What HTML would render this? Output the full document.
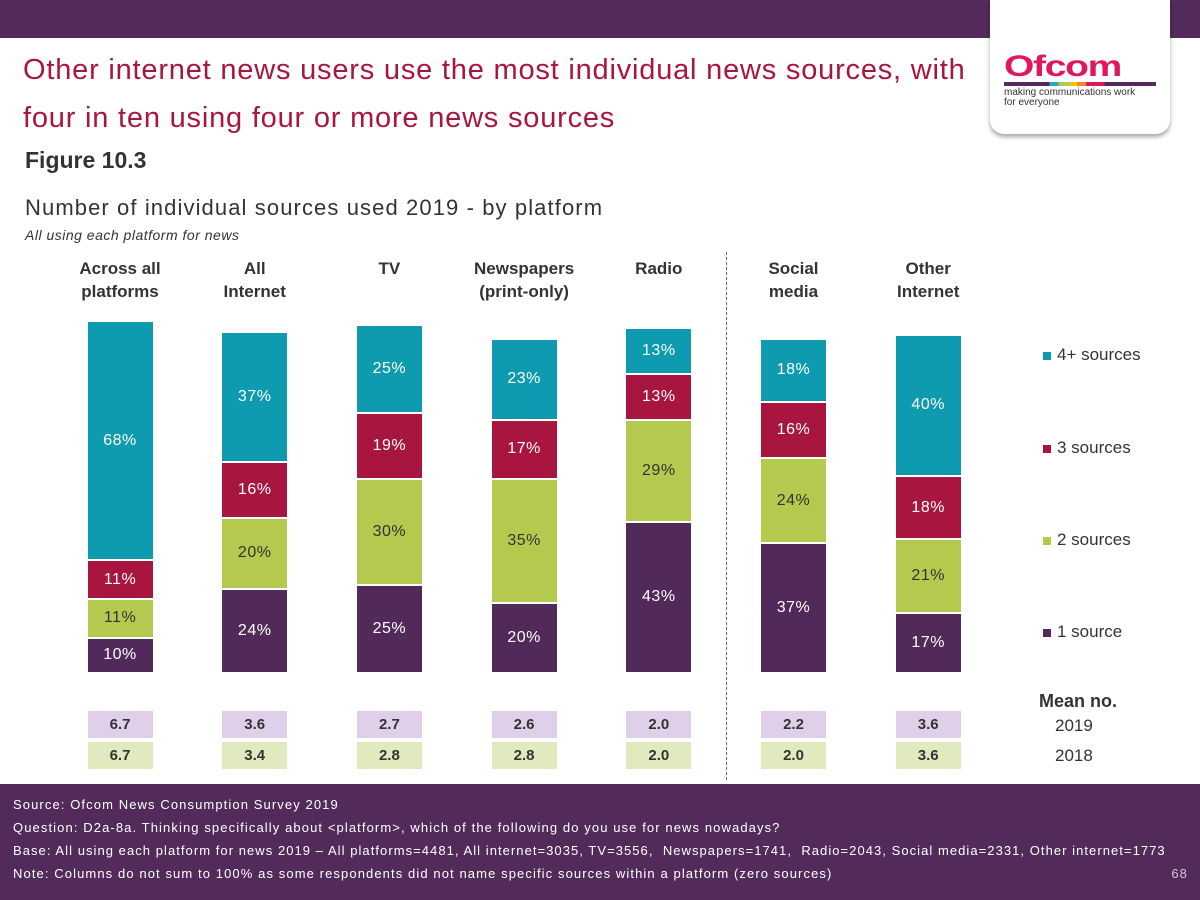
<!DOCTYPE html>
<html><head><meta charset="utf-8"><style>
body{margin:0;width:1200px;height:900px;position:relative;overflow:hidden;background:#fff;font-family:"Liberation Sans",Calibri,sans-serif}
.abs{position:absolute}
</style></head><body>
<div class="abs" style="left:0;top:0;width:1200px;height:38px;background:#532b5a"></div>
<div class="abs" style="left:990px;top:0;width:180px;height:134px;background:#fff;border-radius:0 0 14px 14px;box-shadow:0 3px 4px rgba(0,0,0,.35)">
 <div class="abs" style="left:14px;top:50px;font:900 30px 'Liberation Sans',sans-serif;color:#e0175c;letter-spacing:-1px;transform:scaleX(1.3);transform-origin:left">Ofcom</div>
 <div class="abs" style="left:14px;top:82px;width:152px;height:4px;background:linear-gradient(90deg,#532b5a 0 30%,#2aa9c7 30% 36%,#b5c94e 36% 44%,#f3c500 44% 48%,#f08a24 48% 54%,#e0175c 54% 66%,#532b5a 66%)"></div>
 <div class="abs" style="left:14px;top:88px;font-size:10px;line-height:10px;color:#333">making communications work<br>for everyone</div>
</div>
<div class="abs" style="left:23px;top:46px;font-size:29px;line-height:48px;color:#a8163f;letter-spacing:0.8px">Other internet news users use the most individual news sources, with<br>four in ten using four or more news sources</div>
<div class="abs" style="left:25px;top:147px;font-size:23px;font-weight:bold;color:#333">Figure 10.3</div>
<div class="abs" style="left:25px;top:195px;font-size:22px;color:#333;letter-spacing:1.1px">Number of individual sources used 2019 - by platform</div>
<div class="abs" style="left:25px;top:227px;font-size:14px;font-style:italic;color:#333;letter-spacing:0.5px">All using each platform for news</div>
<div class="abs" style="left:726px;top:252px;height:528px;border-left:1.5px dashed #666"></div>
<div id="chart"></div>
<div class="abs" style="left:1043px;top:345px;font-size:17px;color:#333;line-height:20px">
 <div style="position:absolute;top:0;white-space:nowrap"><span style="display:inline-block;width:8px;height:8px;background:#0e9bb0;margin-right:6px"></span>4+ sources</div>
 <div style="position:absolute;top:93px;white-space:nowrap"><span style="display:inline-block;width:8px;height:8px;background:#a8163f;margin-right:6px"></span>3 sources</div>
 <div style="position:absolute;top:185px;white-space:nowrap"><span style="display:inline-block;width:8px;height:8px;background:#b5c94e;margin-right:6px"></span>2 sources</div>
 <div style="position:absolute;top:277px;white-space:nowrap"><span style="display:inline-block;width:8px;height:8px;background:#522a5a;margin-right:6px"></span>1 source</div>
</div>
<div class="abs" style="left:1039px;top:691px;font-size:18px;font-weight:bold;color:#333">Mean no.</div>
<div class="abs" style="left:1055px;top:716px;font-size:17px;color:#333">2019</div>
<div class="abs" style="left:1055px;top:746px;font-size:17px;color:#333">2018</div>
<div class="abs" style="left:0;top:784px;width:1200px;height:116px;background:#532b5a;color:#fff;font-size:13px;letter-spacing:1.1px">
 <div style="position:absolute;left:13px;top:9px;line-height:23px;white-space:nowrap">Source: Ofcom News Consumption Survey 2019<br>Question: D2a-8a. Thinking specifically about &lt;platform&gt;, which of the following do you use for news nowadays?<br><span style="letter-spacing:1.05px">Base: All using each platform for news 2019 – All platforms=4481, All internet=3035, TV=3556,&nbsp; Newspapers=1741,&nbsp; Radio=2043, Social media=2331, Other internet=1773</span><br>Note: Columns do not sum to 100% as some respondents did not name specific sources within a platform (zero sources)</div>
 <div style="position:absolute;right:12px;top:82px;color:#ccc">68</div>
</div>
<script>
const categories=["Across all\nplatforms","All\nInternet","TV","Newspapers\n(print-only)","Radio","Social\nmedia","Other\nInternet"];
const one=[10,24,25,20,43,37,17];
const two=[11,20,30,35,29,24,21];
const three=[11,16,19,17,13,16,18];
const four=[68,37,25,23,13,18,40];
const mean2019=["6.7","3.6","2.7","2.6","2.0","2.2","3.6"];
const mean2018=["6.7","3.4","2.8","2.8","2.0","2.0","3.6"];
const chart=document.getElementById('chart');
const xC=i=>120+i*134.7, y=v=>673-v*3.52, bw=65;
const series=[[one,'#522a5a','#fff','1'],[two,'#b5c94e','#333','2'],[three,'#a8163f','#fff','3'],[four,'#0e9bb0','#fff','4plus']];
function div(css,txt){const d=document.createElement('div');d.className='abs';d.style.cssText=css;if(txt!=null)d.textContent=txt;chart.appendChild(d);return d;}
categories.forEach((c,i)=>{
 const l=div(`left:${xC(i)-70}px;top:257px;width:140px;text-align:center;font-size:17px;font-weight:bold;color:#333;line-height:23px;white-space:pre`,c);
 
 
 let cum=0;
 series.forEach(s=>{
  const v=s[0][i];const top=y(cum+v),h=v*3.52;
  const b=div(`left:${xC(i)-bw/2}px;top:${top+1}px;width:${bw}px;height:${h-2}px;background:${s[1]};color:${s[2]};font-size:16px;letter-spacing:0.5px;display:flex;align-items:center;justify-content:center`,v+'%');
  
  
  cum+=v;
 });
 const m1=div(`left:${xC(i)-bw/2}px;top:711px;width:${bw}px;height:27px;background:#e0cfe8;color:#333;font-size:15px;font-weight:bold;display:flex;align-items:center;justify-content:center`,mean2019[i]);
 
 
 const m2=div(`left:${xC(i)-bw/2}px;top:742px;width:${bw}px;height:27px;background:#e1eabf;color:#333;font-size:15px;font-weight:bold;display:flex;align-items:center;justify-content:center`,mean2018[i]);
 
 
});
</script>
</body></html>
